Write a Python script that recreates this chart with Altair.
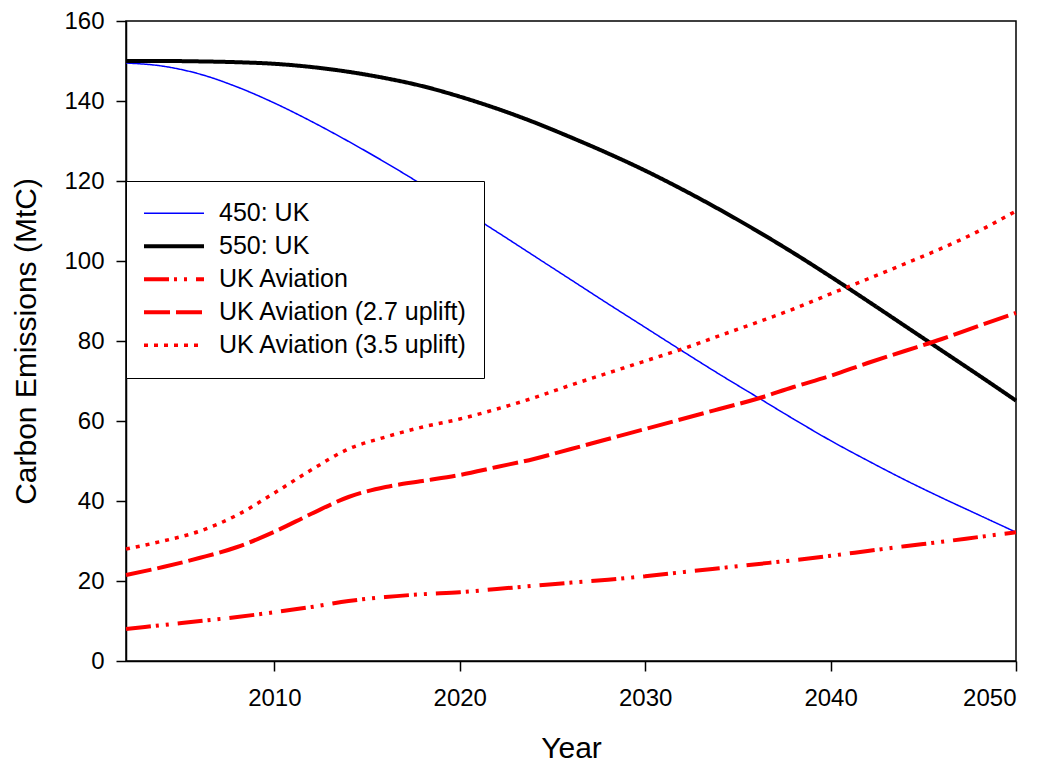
import altair as alt
import pandas as pd

years = [2002, 2004, 2006, 2008, 2010, 2012, 2014, 2016, 2018, 2020, 2022, 2024, 2026,
         2028, 2030, 2032, 2034, 2036, 2038, 2040, 2042, 2044, 2046, 2048, 2050]

uk_450 = [149.5, 148.7, 146.7, 143.5, 139.5, 134.9, 129.9, 124.6, 119.0, 113.2, 107.3, 101.3, 95.3,
          89.3, 83.4, 77.5, 71.7, 66.1, 60.5, 55.1, 50.1, 45.3, 40.8, 36.5, 32.2]
uk_550 = [150.0, 150.0, 149.9, 149.7, 149.3, 148.5, 147.3, 145.7, 143.7, 141.1, 138.1, 134.7, 130.9,
          126.9, 122.6, 117.9, 112.9, 107.6, 102.0, 96.1, 90.0, 83.8, 77.6, 71.4, 65.1]
aviation = [8.0, 9.0, 10.0, 11.0, 12.2, 13.5, 15.0, 16.0, 16.7, 17.2, 18.0, 18.8, 19.6,
            20.3, 21.2, 22.2, 23.2, 24.2, 25.2, 26.3, 27.5, 28.7, 29.8, 31.0, 32.2]
aviation_27 = [21.5, 23.5, 25.8, 28.5, 32.3, 36.8, 41.0, 43.5, 45.0, 46.5, 48.5, 50.5, 53.0,
               55.5, 58.0, 60.5, 63.0, 65.5, 68.5, 71.3, 74.5, 77.5, 80.5, 83.8, 87.0]
aviation_35 = [28.0, 30.0, 32.5, 36.5, 42.0, 47.8, 53.0, 56.0, 58.5, 60.5, 63.0, 65.8, 69.0,
               72.0, 75.0, 78.0, 81.3, 84.6, 88.0, 91.8, 95.5, 99.3, 103.2, 107.5, 112.5]

series_names = ["450: UK", "550: UK", "UK Aviation", "UK Aviation (2.7 uplift)", "UK Aviation (3.5 uplift)"]
series_values = [uk_450, uk_550, aviation, aviation_27, aviation_35]

x_ticks = [2010, 2020, 2030, 2040, 2050]
y_ticks = [0, 20, 40, 60, 80, 100, 120, 140, 160]

rows = []
for name, vals in zip(series_names, series_values):
    for yr, v in zip(years, vals):
        rows.append({"Year": yr, "Emissions": v, "Series": name})
df = pd.DataFrame(rows)

FONT = "Liberation Sans"

colors = ["#0000ff", "#000000", "#ff0000", "#ff0000", "#ff0000"]
dashes = [[1, 0], [1, 0], [25, 5, 3, 7, 3, 9], [26, 6], [4, 6]]
widths = [1.5, 4, 4, 4, 3.5]

legend = alt.Legend(
    title=None, orient="none", legendX=0, legendY=160,
    symbolType="stroke", symbolSize=3600, clipHeight=32.5, rowPadding=0,
    labelFont=FONT, labelFontSize=25, labelColor="black", labelOffset=13, labelLimit=0,
    padding=16, strokeColor="black", fillColor="white",
)

chart = alt.Chart(df).mark_line(interpolate="monotone", strokeCap="butt").encode(
    x=alt.X("Year:Q",
            scale=alt.Scale(domain=[2002, 2050], nice=False, zero=False),
            axis=alt.Axis(values=x_ticks, format="d", title="Year",
                          labelPadding=15, titlePadding=23)),
    y=alt.Y("Emissions:Q",
            scale=alt.Scale(domain=[0, 160], nice=False),
            axis=alt.Axis(values=y_ticks, title="Carbon Emissions (MtC)",
                          labelPadding=12, titlePadding=22)),
    color=alt.Color("Series:N", scale=alt.Scale(domain=series_names, range=colors), legend=legend),
    strokeDash=alt.StrokeDash("Series:N", scale=alt.Scale(domain=series_names, range=dashes), legend=legend),
    strokeWidth=alt.StrokeWidth("Series:N",
                                scale=alt.Scale(type="ordinal", domain=series_names, range=widths),
                                legend=legend),
).properties(
    width=890, height=640,
    padding={"left": 3, "top": 1, "right": 5, "bottom": 2},
).configure_view(
    stroke="black", strokeWidth=1.5
).configure_axis(
    grid=False, domainColor="black", domainWidth=1.5, tickColor="black", tickWidth=1.5,
    tickSize=10, labelFont=FONT, labelFontSize=24, labelColor="black",
    titleFont=FONT, titleFontSize=30, titleFontWeight="normal", titleColor="black",
)

chart.save("out.html", embed_options={"renderer": "svg", "actions": False})
